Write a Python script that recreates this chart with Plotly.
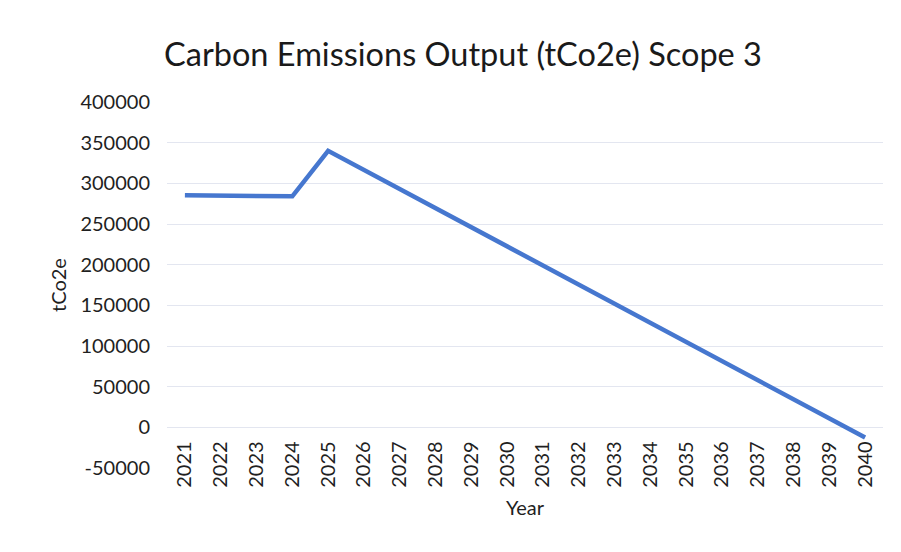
import plotly.graph_objects as go

years = [str(y) for y in range(2021, 2041)]
emissions = [285500, 285000, 284500, 284000, 340000, 316500, 293000, 269500,
             246000, 222500, 199000, 175500, 152000, 128500, 105000, 81500,
             58000, 34500, 11000, -12500]
y_ticks = list(range(-50000, 400001, 50000))
y_ticktext = [str(v) for v in y_ticks]

FONT = "Lato, Calibri, 'Liberation Sans', sans-serif"
TXT = "#1f1f1f"

# page body has an 8px default margin, so the figure is sized 8px smaller
W, H = 893, 544

fig = go.Figure()
fig.add_trace(go.Scatter(
    x=years, y=emissions, mode="lines",
    line=dict(color="#4677cf", width=4.5),
    hoverinfo="x+y", showlegend=False,
))

fig.update_layout(
    width=W, height=H,
    paper_bgcolor="white", plot_bgcolor="white",
    margin=dict(l=159, r=18, t=94, b=84, autoexpand=False),
    font=dict(family=FONT, color=TXT, size=20),
    title=dict(text="Carbon Emissions Output (tCo2e) Scope 3",
               x=455 / W, xanchor="center", y=1 - 47 / H, yanchor="middle",
               font=dict(size=32.5, color="#1a1a1a", family=FONT)),
    xaxis=dict(
        type="category", range=[-0.5, 19.5],
        anchor="free", position=50000 / 450000, automargin=False,
        tickangle=-90, showgrid=False, showline=False,
        ticks="outside", ticklen=5, tickcolor="rgba(0,0,0,0)",
        tickfont=dict(size=20, color=TXT),
        title=dict(text="Year", font=dict(size=20, color=TXT), standoff=14),
    ),
    yaxis=dict(
        range=[-50000, 400000], tickvals=y_ticks, ticktext=y_ticktext,
        automargin=False,
        showgrid=True, gridcolor="#e3e6f0", gridwidth=1,
        zeroline=False, showline=False,
        ticks="outside", ticklen=12, tickcolor="rgba(0,0,0,0)",
        tickfont=dict(size=20, color=TXT),
        title=dict(text="tCo2e", font=dict(size=20, color=TXT), standoff=8),
    ),
)

fig.write_html("out.html")
